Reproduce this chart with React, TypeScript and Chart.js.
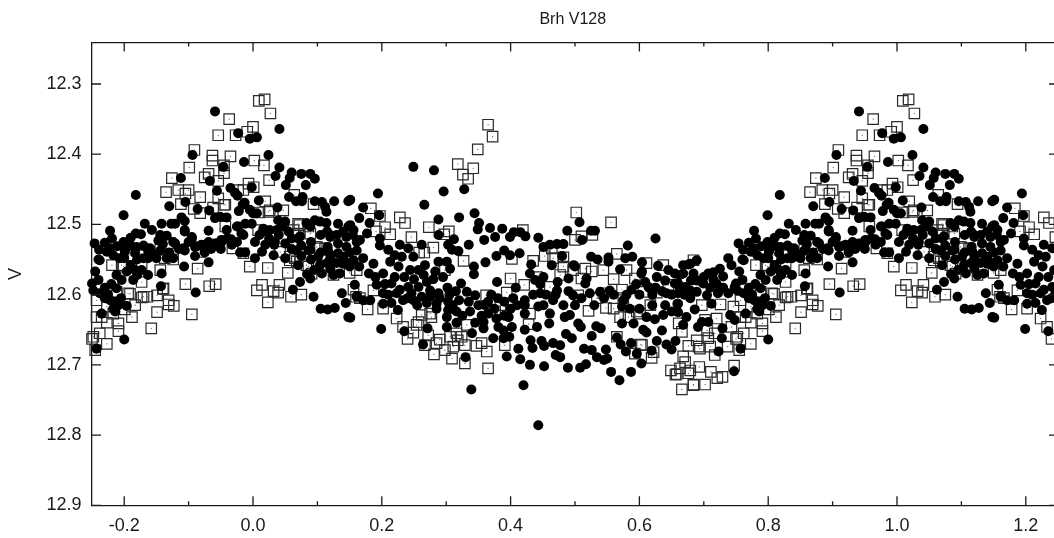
import React, { useEffect, useRef } from "react";
import { Chart, registerables } from "chart.js";

Chart.register(...registerables);

type P = [number, number];

const chartTitle = "Brh V128";
const yTitle = "V";
const xMajorTicks = [-0.2, 0, 0.2, 0.4, 0.6, 0.8, 1.0, 1.2];
const xMinorTicks = [-0.1, 0.1, 0.3, 0.5, 0.7, 0.9, 1.1];
const yTickValues = [12.3, 12.4, 12.5, 12.6, 12.7, 12.8, 12.9];
const xRange = [-0.2508, 1.2438];
const yRange = [12.2409, 12.9];

// Folded light curve: each star phase in [-0.25, 0.75) also appears one cycle later.
const circlesPeak: P[] = [[-.059,12.339],[.041,12.364],[-.023,12.37],[-.005,12.378],[.006,12.376],[.024,12.401],[-.094,12.401],[-.014,12.411],[-.046,12.418],[.041,12.419],[.035,12.431],[.06,12.426],[.075,12.428],[.089,12.428],[.096,12.435],[-.112,12.434],[-.067,12.438],[.057,12.434],[.051,12.444],[.082,12.444],[-.056,12.452],[-.035,12.448],[-.028,12.455],[-.024,12.459],[-.002,12.447],[-.182,12.458],[.056,12.461],[.067,12.467],[.077,12.461],[.076,12.467],[.096,12.467],[.107,12.468],[.126,12.467],[.148,12.467],[.009,12.466],[-.013,12.469],[.038,12.476],[-.13,12.474],[-.105,12.468],[-.086,12.478],[-.068,12.48],[-.022,12.481],[-.005,12.479],[.006,12.484],[.112,12.475],[.114,12.482],[-.201,12.487],[-.111,12.49],[-.106,12.495],[-.059,12.491],[-.051,12.489],[-.041,12.49]];
const circlesUpperBand: P[] = [[-.168,12.499],[-.142,12.499],[-.127,12.499],[-.121,12.499],[-.222,12.509],[-.157,12.508],[-.106,12.508],[-.069,12.509],[-.041,12.508],[-.012,12.499],[-.002,12.499],[-.023,12.503],[.039,12.494],[.05,12.496],[.046,12.503],[.016,12.506],[.026,12.508],[.037,12.508],[.096,12.494],[.104,12.496],[.114,12.498],[.132,12.499],[.148,12.503],[.089,12.503],[.12,12.515],[-.246,12.527],[-.23,12.526],[-.219,12.52],[-.201,12.525],[-.19,12.519],[-.182,12.513],[-.174,12.514],[-.239,12.536],[-.24,12.55],[-.222,12.534],[-.211,12.531],[-.199,12.537],[-.181,12.532],[-.16,12.534],[-.144,12.515],[-.134,12.516],[-.124,12.525],[-.147,12.523],[-.108,12.534],[-.095,12.518],[-.087,12.531],[-.077,12.532],[-.069,12.525],[-.056,12.527],[-.049,12.525],[-.033,12.529],[-.034,12.521],[-.015,12.515],[-.012,12.54],[.003,12.548],[.003,12.525],[.019,12.529],[.014,12.539],[.016,12.51],[.033,12.529],[.05,12.527],[.06,12.52],[.073,12.517],[.032,12.544],[.05,12.548],[.089,12.536],[.101,12.546],[.116,12.532],[.132,12.541],[.145,12.532],[.143,12.553]];
const circlesLeftBlob: P[] = [[-.238,12.551],[-.207,12.548],[-.183,12.541],[-.163,12.537],[-.163,12.548],[-.15,12.548],[-.134,12.548],[-.124,12.548],[-.144,12.537],[-.199,12.539],[-.217,12.544],[-.227,12.539],[-.106,12.537],[-.09,12.532],[-.08,12.529],[-.059,12.527],[-.049,12.522],[-.069,12.554],[-.107,12.56],[-.121,12.527],[-.106,12.51],[-.095,12.52],[-.245,12.567],[-.212,12.572],[-.196,12.567],[-.183,12.565],[-.173,12.565],[-.163,12.572],[-.142,12.57],[-.186,12.579],[-.204,12.579],[-.24,12.579],[-.25,12.584],[-.248,12.594],[-.238,12.598],[-.23,12.605],[-.222,12.608],[-.212,12.591],[-.143,12.588],[-.089,12.597],[-.217,12.62],[-.196,12.616],[-.235,12.627],[-.214,12.624],[-.2,12.664],[-.243,12.677],[-.209,12.615]];
const circlesAfterPeak: P[] = [[0,12.484],[-.016,12.472],[.083,12.498],[.151,12.501],[-.025,12.503],[.055,12.51],[-.018,12.513],[.034,12.525],[.07,12.52],[.12,12.518],[.145,12.518],[.161,12.525],[.132,12.527],[.117,12.539],[.068,12.537],[.086,12.537],[.07,12.558],[.104,12.558],[.12,12.563],[.089,12.577],[.073,12.582],[.062,12.593],[.094,12.603],[.138,12.598],[.144,12.612],[.105,12.62],[.116,12.621],[.127,12.619],[.148,12.632],[.158,12.586],[.161,12.603],[.14,12.546],[.156,12.551],[.14,12.556],[.125,12.572],[.107,12.57],[.084,12.571]];
const circlesMiddleTop: P[] = [[.249,12.418],[.281,12.423],[.194,12.456],[.296,12.453],[.328,12.45],[.151,12.465],[.266,12.472],[.171,12.476],[.344,12.484],[.196,12.487],[.165,12.491],[.288,12.493],[.32,12.49],[.351,12.498],[.349,12.507],[.181,12.498],[.368,12.505],[.387,12.506],[.376,12.518],[.359,12.522],[.399,12.518],[.405,12.511],[.415,12.511],[.423,12.517],[.443,12.519],[.488,12.509],[.507,12.497],[.525,12.509],[.531,12.509],[.511,12.522],[.625,12.52],[.288,12.515],[.312,12.521],[.303,12.529],[.309,12.536],[.319,12.538],[.335,12.529],[.262,12.529],[.228,12.529],[.241,12.534],[.197,12.52],[.197,12.53],[.21,12.536],[.22,12.544],[.231,12.546],[.249,12.546],[.213,12.553],[.177,12.513],[.166,12.522],[.156,12.508],[.451,12.532],[.461,12.529],[.472,12.528],[.482,12.528],[.582,12.53]];
const circlesMiddleBand: P[] = [[.378,12.545],[.39,12.537],[.399,12.544],[.414,12.541],[.48,12.545],[.525,12.546],[.535,12.55],[.552,12.547],[.578,12.548],[.589,12.546],[.361,12.554],[.432,12.557],[.464,12.558],[.498,12.558],[.552,12.553],[.604,12.554],[.629,12.559],[.645,12.565],[.668,12.558],[.676,12.557],[.689,12.551],[.267,12.558],[.288,12.553],[.301,12.553],[.306,12.563],[.283,12.567],[.257,12.565],[.226,12.56],[.244,12.565],[.202,12.57],[.187,12.556],[.171,12.548],[.161,12.537],[.343,12.56],[.343,12.571],[.43,12.57],[.438,12.579],[.451,12.575],[.446,12.585],[.5,12.56],[.49,12.577],[.518,12.577],[.516,12.584],[.473,12.582],[.57,12.564],[.604,12.567],[.609,12.582],[.627,12.575],[.655,12.584],[.684,12.57],[.668,12.57],[.379,12.582],[.302,12.59],[.323,12.584],[.192,12.586],[.215,12.584],[.27,12.582],[.257,12.589],[.241,12.589],[.228,12.593],[.275,12.594],[.288,12.598],[.332,12.596],[.345,12.601],[.408,12.59],[.472,12.594],[.497,12.601],[.523,12.598],[.539,12.596],[.554,12.594],[.588,12.593],[.614,12.589],[.642,12.598],[.663,12.591],[.679,12.594],[.689,12.596]];
const circlesMiddleLow: P[] = [[.161,12.602],[.171,12.608],[.182,12.608],[.202,12.598],[.223,12.598],[.246,12.598],[.262,12.603],[.202,12.613],[.233,12.608],[.249,12.608],[.275,12.603],[.285,12.613],[.303,12.61],[.32,12.608],[.365,12.61],[.36,12.615],[.404,12.605],[.422,12.608],[.446,12.598],[.466,12.608],[.443,12.617],[.451,12.615],[.482,12.615],[.5,12.615],[.573,12.617],[.575,12.608],[.659,12.613],[.65,12.624],[.637,12.629],[.686,12.621],[.673,12.632],[.225,12.622],[.285,12.62],[.303,12.622],[.316,12.624],[.337,12.624],[.365,12.627],[.378,12.634],[.397,12.632],[.422,12.615],[.422,12.627],[.461,12.627],[.484,12.632],[.492,12.629],[.611,12.632],[.624,12.635],[.668,12.643],[.691,12.646],[.573,12.641],[.591,12.641],[.635,12.651],[.606,12.65],[.611,12.654],[.301,12.632],[.316,12.64],[.301,12.646],[.358,12.648],[.358,12.639],[.381,12.646],[.389,12.651],[.402,12.646],[.422,12.65],[.441,12.646],[.46,12.641],[.505,12.641],[.509,12.646],[.533,12.645],[.54,12.648]];
const circlesBottom: P[] = [[.199,12.649],[.151,12.633],[.235,12.652],[.271,12.648],[.34,12.655],[.373,12.662],[.389,12.662],[.398,12.66],[.486,12.656],[.495,12.662],[.526,12.659],[.565,12.661],[.627,12.666],[.656,12.666],[.642,12.671],[.571,12.671],[.587,12.669],[.431,12.665],[.448,12.666],[.466,12.669],[.477,12.672],[.452,12.673],[.434,12.676],[.412,12.677],[.264,12.671],[.514,12.677],[.526,12.679],[.548,12.678],[.65,12.678],[.619,12.68],[.579,12.681],[.596,12.684],[.534,12.689],[.545,12.693],[.55,12.691],[.47,12.686],[.477,12.689],[.394,12.688],[.415,12.692],[.33,12.689],[.603,12.698],[.517,12.699],[.508,12.704],[.489,12.704],[.452,12.702],[.43,12.7],[.556,12.71],[.587,12.71],[.569,12.722],[.42,12.729],[.339,12.735],[.443,12.786]];
const circlesRise: P[] = [[.679,12.556],[.603,12.57],[.743,12.558],[.725,12.563],[.715,12.568],[.707,12.57],[.738,12.548],[.663,12.572],[.66,12.584],[.616,12.591],[.671,12.589],[.699,12.584],[.715,12.579],[.73,12.574],[.748,12.589],[.738,12.598],[.722,12.598],[.705,12.601],[.679,12.605],[.66,12.598],[.66,12.613],[.712,12.613],[.741,12.629],[.748,12.636],[.707,12.639],[.697,12.639],[.729,12.648],[.728,12.662],[.723,12.681],[.747,12.709]];
const circlesDenseLeft: P[] = [[-.2,12.548],[-.19,12.53],[-.17,12.53],[-.155,12.542],[-.14,12.528],[-.13,12.54],[-.115,12.535],[-.1,12.525],[-.09,12.545],[-.075,12.54],[-.065,12.535],[-.05,12.535],[-.04,12.52],[-.025,12.525],[-.02,12.54],[-.18,12.55],[-.17,12.548],[-.19,12.558],[-.18,12.572],[-.23,12.59],[-.22,12.585],[-.225,12.6],[-.215,12.61],[-.205,12.605],[.01,12.515],[.025,12.52],[.04,12.515],[.06,12.535],[.075,12.53],[.09,12.525],[.105,12.515],[.115,12.51],[.13,12.515],[.14,12.51],[.155,12.515],[.075,12.545],[.09,12.55],[.105,12.54],[.12,12.548],[.13,12.555],[.15,12.54],[.15,12.56],[.135,12.57],[.115,12.555],[.095,12.565]];
const circlesDenseMiddle: P[] = [[.165,12.56],[.18,12.57],[.19,12.575],[.205,12.585],[.22,12.575],[.235,12.575],[.25,12.578],[.265,12.572],[.28,12.578],[.295,12.575],[.21,12.6],[.215,12.612],[.24,12.605],[.255,12.615],[.27,12.612],[.29,12.605],[.305,12.6],[.315,12.595],[.31,12.615],[.325,12.63],[.335,12.61],[.35,12.615],[.355,12.63],[.345,12.64],[.37,12.6],[.38,12.605],[.39,12.61],[.4,12.62],[.41,12.615],[.375,12.62],[.39,12.63],[.435,12.6],[.455,12.6],[.47,12.6],[.49,12.595],[.51,12.605],[.53,12.615],[.545,12.605],[.56,12.6],[.58,12.6],[.6,12.6],[.62,12.6],[.635,12.595],[.65,12.6],[.67,12.6],[.69,12.58],[.7,12.575],[.71,12.59],[.72,12.585],[.73,12.59],[.68,12.58],[.655,12.57],[.64,12.58],[.625,12.59],[.595,12.585],[.6,12.62],[.62,12.615],[.585,12.62],[.64,12.615],[.66,12.625]];

const squaresPeak: P[] = [[.009,12.324],[.018,12.322],[.027,12.342],[-.037,12.35],[0,12.361],[-.009,12.368],[-.054,12.373],[-.027,12.373],[-.091,12.394],[-.035,12.403],[-.063,12.402],[-.063,12.409],[.002,12.409],[.017,12.416],[-.099,12.419],[-.045,12.416],[.025,12.437],[-.126,12.434],[-.075,12.433],[-.069,12.428],[-.054,12.438],[-.045,12.427],[-.007,12.442],[.001,12.447],[-.135,12.454],[-.116,12.451],[-.1,12.451],[-.082,12.461],[-.023,12.451],[-.015,12.451],[-.054,12.463],[.064,12.458],[-.045,12.472],[-.062,12.476],[-.092,12.478],[-.082,12.484],[-.112,12.471],[-.105,12.456],[.019,12.467],[.047,12.48],[.024,12.482],[.01,12.483],[.094,12.471],[-.043,12.503],[.008,12.508],[.07,12.499],[.086,12.503],[.063,12.508],[.071,12.513],[-.129,12.527],[-.032,12.534],[-.144,12.536],[-.082,12.539],[.057,12.546],[.065,12.548],[.104,12.534],[.112,12.534],[-.005,12.56],[.023,12.562],[-.086,12.563],[-.144,12.565],[-.219,12.558],[-.201,12.56],[-.173,12.56],[.086,12.56],[.125,12.546]];
const squaresLeftLow: P[] = [[-.173,12.582],[-.105,12.585],[-.068,12.588],[-.058,12.585],[.006,12.594],[.014,12.586],[.041,12.586],[.032,12.595],[.039,12.597],[.023,12.611],[.059,12.603],[.075,12.6],[-.191,12.599],[-.212,12.596],[-.243,12.608],[-.173,12.604],[-.164,12.603],[-.149,12.601],[-.14,12.592],[-.131,12.608],[-.123,12.616],[-.131,12.614],[-.149,12.625],[-.095,12.628],[-.158,12.648],[-.188,12.632],[-.183,12.615],[-.199,12.621],[-.217,12.627],[-.227,12.617],[-.243,12.632],[-.235,12.632],[-.227,12.64],[-.209,12.641],[-.209,12.652],[-.238,12.655],[-.248,12.66],[-.25,12.663],[-.227,12.67],[-.245,12.679],[-.204,12.558],[-.191,12.544],[-.175,12.544],[-.137,12.548],[-.124,12.55],[-.194,12.598],[-.17,12.603],[-.139,12.591]];
const squaresAfterPeak: P[] = [[-.043,12.472],[.026,12.48],[.072,12.501],[.089,12.513],[-.015,12.541],[.054,12.569],[.042,12.539],[.057,12.551],[.068,12.553],[.083,12.558],[.099,12.558],[.099,12.532],[.114,12.544],[.127,12.548],[.091,12.57],[.125,12.572],[.15,12.569],[.161,12.565],[.156,12.593],[.166,12.605]];
const squaresMiddleTop: P[] = [[.372,12.375],[.365,12.358],[.349,12.393],[.318,12.414],[.342,12.42],[.326,12.429],[.334,12.435],[.183,12.477],[.228,12.49],[.236,12.498],[.197,12.488],[.273,12.504],[.205,12.504],[.213,12.514],[.191,12.51],[.246,12.518],[.304,12.51],[.297,12.514],[.28,12.533],[.266,12.54],[.258,12.54],[.327,12.552],[.298,12.565],[.402,12.549],[.419,12.508],[.502,12.483],[.556,12.497],[.5,12.522],[.51,12.517],[.527,12.515],[.464,12.534],[.453,12.545],[.466,12.548],[.482,12.547],[.435,12.552],[.565,12.542],[.611,12.555],[.637,12.558],[.684,12.551],[.516,12.563],[.497,12.565],[.482,12.56],[.544,12.565],[.526,12.567],[.58,12.565],[.56,12.578],[.593,12.577],[.51,12.577],[.477,12.572],[.4,12.577],[.421,12.586],[.394,12.597],[.362,12.601],[.441,12.575],[.461,12.589],[.573,12.593],[.606,12.596],[.627,12.597],[.645,12.586],[.544,12.598],[.534,12.605],[.575,12.605],[.617,12.615],[.521,12.623],[.548,12.619],[.56,12.62],[.505,12.601],[.596,12.624],[.57,12.632],[.583,12.632],[.601,12.627]];
const squaresMiddleLow: P[] = [[.661,12.641],[.666,12.653],[.689,12.665],[.676,12.673],[.692,12.674],[.602,12.671],[.619,12.69],[.593,12.684],[.565,12.66],[.668,12.688],[.671,12.696],[.679,12.708],[.658,12.713],[.649,12.708],[.684,12.729],[.666,12.735],[.178,12.621],[.16,12.603],[.202,12.62],[.187,12.594],[.223,12.634],[.233,12.646],[.254,12.643],[.262,12.629],[.277,12.632],[.24,12.663],[.249,12.654],[.272,12.658],[.29,12.664],[.267,12.672],[.281,12.685],[.298,12.679],[.309,12.691],[.329,12.698],[.365,12.705],[.363,12.681],[.347,12.673],[.329,12.672],[.391,12.672],[.316,12.655],[.324,12.66],[.306,12.66],[.332,12.643],[.384,12.615],[.376,12.624],[.428,12.642],[.43,12.627],[.257,12.639],[.275,12.627],[.368,12.622],[.318,12.665],[.285,12.669],[.355,12.669],[.311,12.674]];
const squaresRise: P[] = [[.726,12.614],[.746,12.617],[.697,12.615],[.72,12.634],[.743,12.646],[.702,12.636],[.705,12.651],[.707,12.662],[.717,12.655],[.694,12.677],[.71,12.674],[.717,12.686],[.604,12.672],[.622,12.682],[.737,12.674],[.656,12.714],[.663,12.705],[.676,12.712],[.693,12.703],[.711,12.71],[.684,12.728],[.702,12.728],[.721,12.719],[.729,12.717],[.747,12.701]];

const circleGroups = [circlesPeak, circlesUpperBand, circlesLeftBlob, circlesAfterPeak, circlesMiddleTop, circlesMiddleBand, circlesMiddleLow, circlesBottom, circlesRise, circlesDenseLeft, circlesDenseMiddle];
const squareGroups = [squaresPeak, squaresLeftLow, squaresAfterPeak, squaresMiddleTop, squaresMiddleLow, squaresRise];

const toFolded = (groups: P[][]) => {
  const base = groups.flat();
  const repeated = base.filter(([x]) => x + 1 <= xRange[1] + 0.003).map(([x, y]) => [x + 1, y] as P);
  return [...base, ...repeated].map(([x, y]) => ({ x, y }));
};

const INK = "#1a1a1a";
const FONT = { family: "'Liberation Sans', Arial, sans-serif", size: 18 };

const innerTicks = {
  id: "innerTicks",
  afterDraw(chart: any) {
    const { ctx, chartArea: a, scales } = chart;
    ctx.save();
    ctx.strokeStyle = INK;
    ctx.lineWidth = 1.3;
    ctx.beginPath();
    const xMark = (v: number, len: number) => {
      const p = scales.x.getPixelForValue(v);
      ctx.moveTo(p, a.top);
      ctx.lineTo(p, a.top + len);
      ctx.moveTo(p, a.bottom);
      ctx.lineTo(p, a.bottom - len);
    };
    xMajorTicks.forEach((v) => xMark(v, 9));
    xMinorTicks.forEach((v) => xMark(v, 4));
    yTickValues.forEach((v) => {
      const p = scales.y.getPixelForValue(v);
      ctx.moveTo(a.left, p);
      ctx.lineTo(a.left + 9.5, p);
      ctx.moveTo(a.right - 5, p);
      ctx.lineTo(a.right, p);
    });
    ctx.stroke();
    ctx.restore();
  },
};

const fixedSize = (prop: "width" | "height", size: number) => (scale: any) => {
  scale[prop] = size;
};

export default function App() {
  const ref = useRef<HTMLCanvasElement>(null);
  useEffect(() => {
    document.body.style.margin = "0";
    const squares = toFolded(squareGroups);
    const circles = toFolded(circleGroups);
    const chart = new Chart(ref.current as HTMLCanvasElement, {
      type: "scatter",
      data: {
        datasets: [
          { label: "circles", data: circles, order: 0, clip: false, pointStyle: "circle", pointRadius: 5, pointBackgroundColor: "#000", pointBorderWidth: 0 },
          { label: "square centres", data: squares, order: 1, clip: false, pointStyle: "circle", pointRadius: 0.6, pointBackgroundColor: "#555", pointBorderWidth: 0 },
          { label: "squares", data: squares, order: 2, clip: false, pointStyle: "rect", pointRadius: 7.4, pointBackgroundColor: "transparent", pointBorderColor: "#2a2a2a", pointBorderWidth: 1.2 },
        ] as any,
      },
      options: {
        animation: false,
        responsive: false,
        devicePixelRatio: 1,
        layout: { padding: 0, autoPadding: false },
        plugins: { legend: { display: false }, tooltip: { enabled: false } },
        scales: {
          x: {
            type: "linear",
            position: "bottom",
            min: xRange[0],
            max: xRange[1],
            afterFit: fixedSize("height", 32.7),
            afterBuildTicks: (s: any) => { s.ticks = xMajorTicks.map((value) => ({ value })); },
            grid: { drawOnChartArea: false, drawTicks: false },
            border: { color: INK, width: 1.3 },
            ticks: { color: INK, font: FONT, padding: 10, maxRotation: 0, autoSkip: false, callback: (v: any) => Number(v).toFixed(1) },
          },
          xTop: {
            type: "linear",
            position: "top",
            min: xRange[0],
            max: xRange[1],
            afterFit: fixedSize("height", 42.5),
            grid: { drawOnChartArea: false, drawTicks: false },
            border: { color: INK, width: 1.3 },
            ticks: { display: false },
            title: { display: true, text: chartTitle, color: INK, font: { ...FONT, size: 16 }, padding: { top: 10, bottom: 0 } },
          },
          y: {
            type: "linear",
            position: "left",
            reverse: true,
            min: yRange[0],
            max: yRange[1],
            afterFit: fixedSize("width", 91.5),
            afterBuildTicks: (s: any) => { s.ticks = yTickValues.map((value) => ({ value })); },
            grid: { drawOnChartArea: false, drawTicks: false },
            border: { color: INK, width: 1.3 },
            ticks: { color: INK, font: FONT, padding: 10, autoSkip: false, callback: (v: any) => Number(v).toFixed(1) },
            title: { display: true, text: yTitle, color: INK, font: FONT, padding: { top: 5, bottom: 0 } },
          },
          yRight: {
            type: "linear",
            position: "right",
            reverse: true,
            min: yRange[0],
            max: yRange[1],
            afterFit: fixedSize("width", 0),
            grid: { drawOnChartArea: false, drawTicks: false },
            border: { display: false },
            ticks: { display: false },
          },
        },
      } as any,
      plugins: [innerTicks],
    });
    return () => chart.destroy();
  }, []);
  return (
    <div style={{ position: "absolute", left: 0, top: 0, width: 1054, height: 538, background: "#fff" }}>
      <canvas ref={ref} width={1054} height={538} style={{ display: "block" }} />
    </div>
  );
}
